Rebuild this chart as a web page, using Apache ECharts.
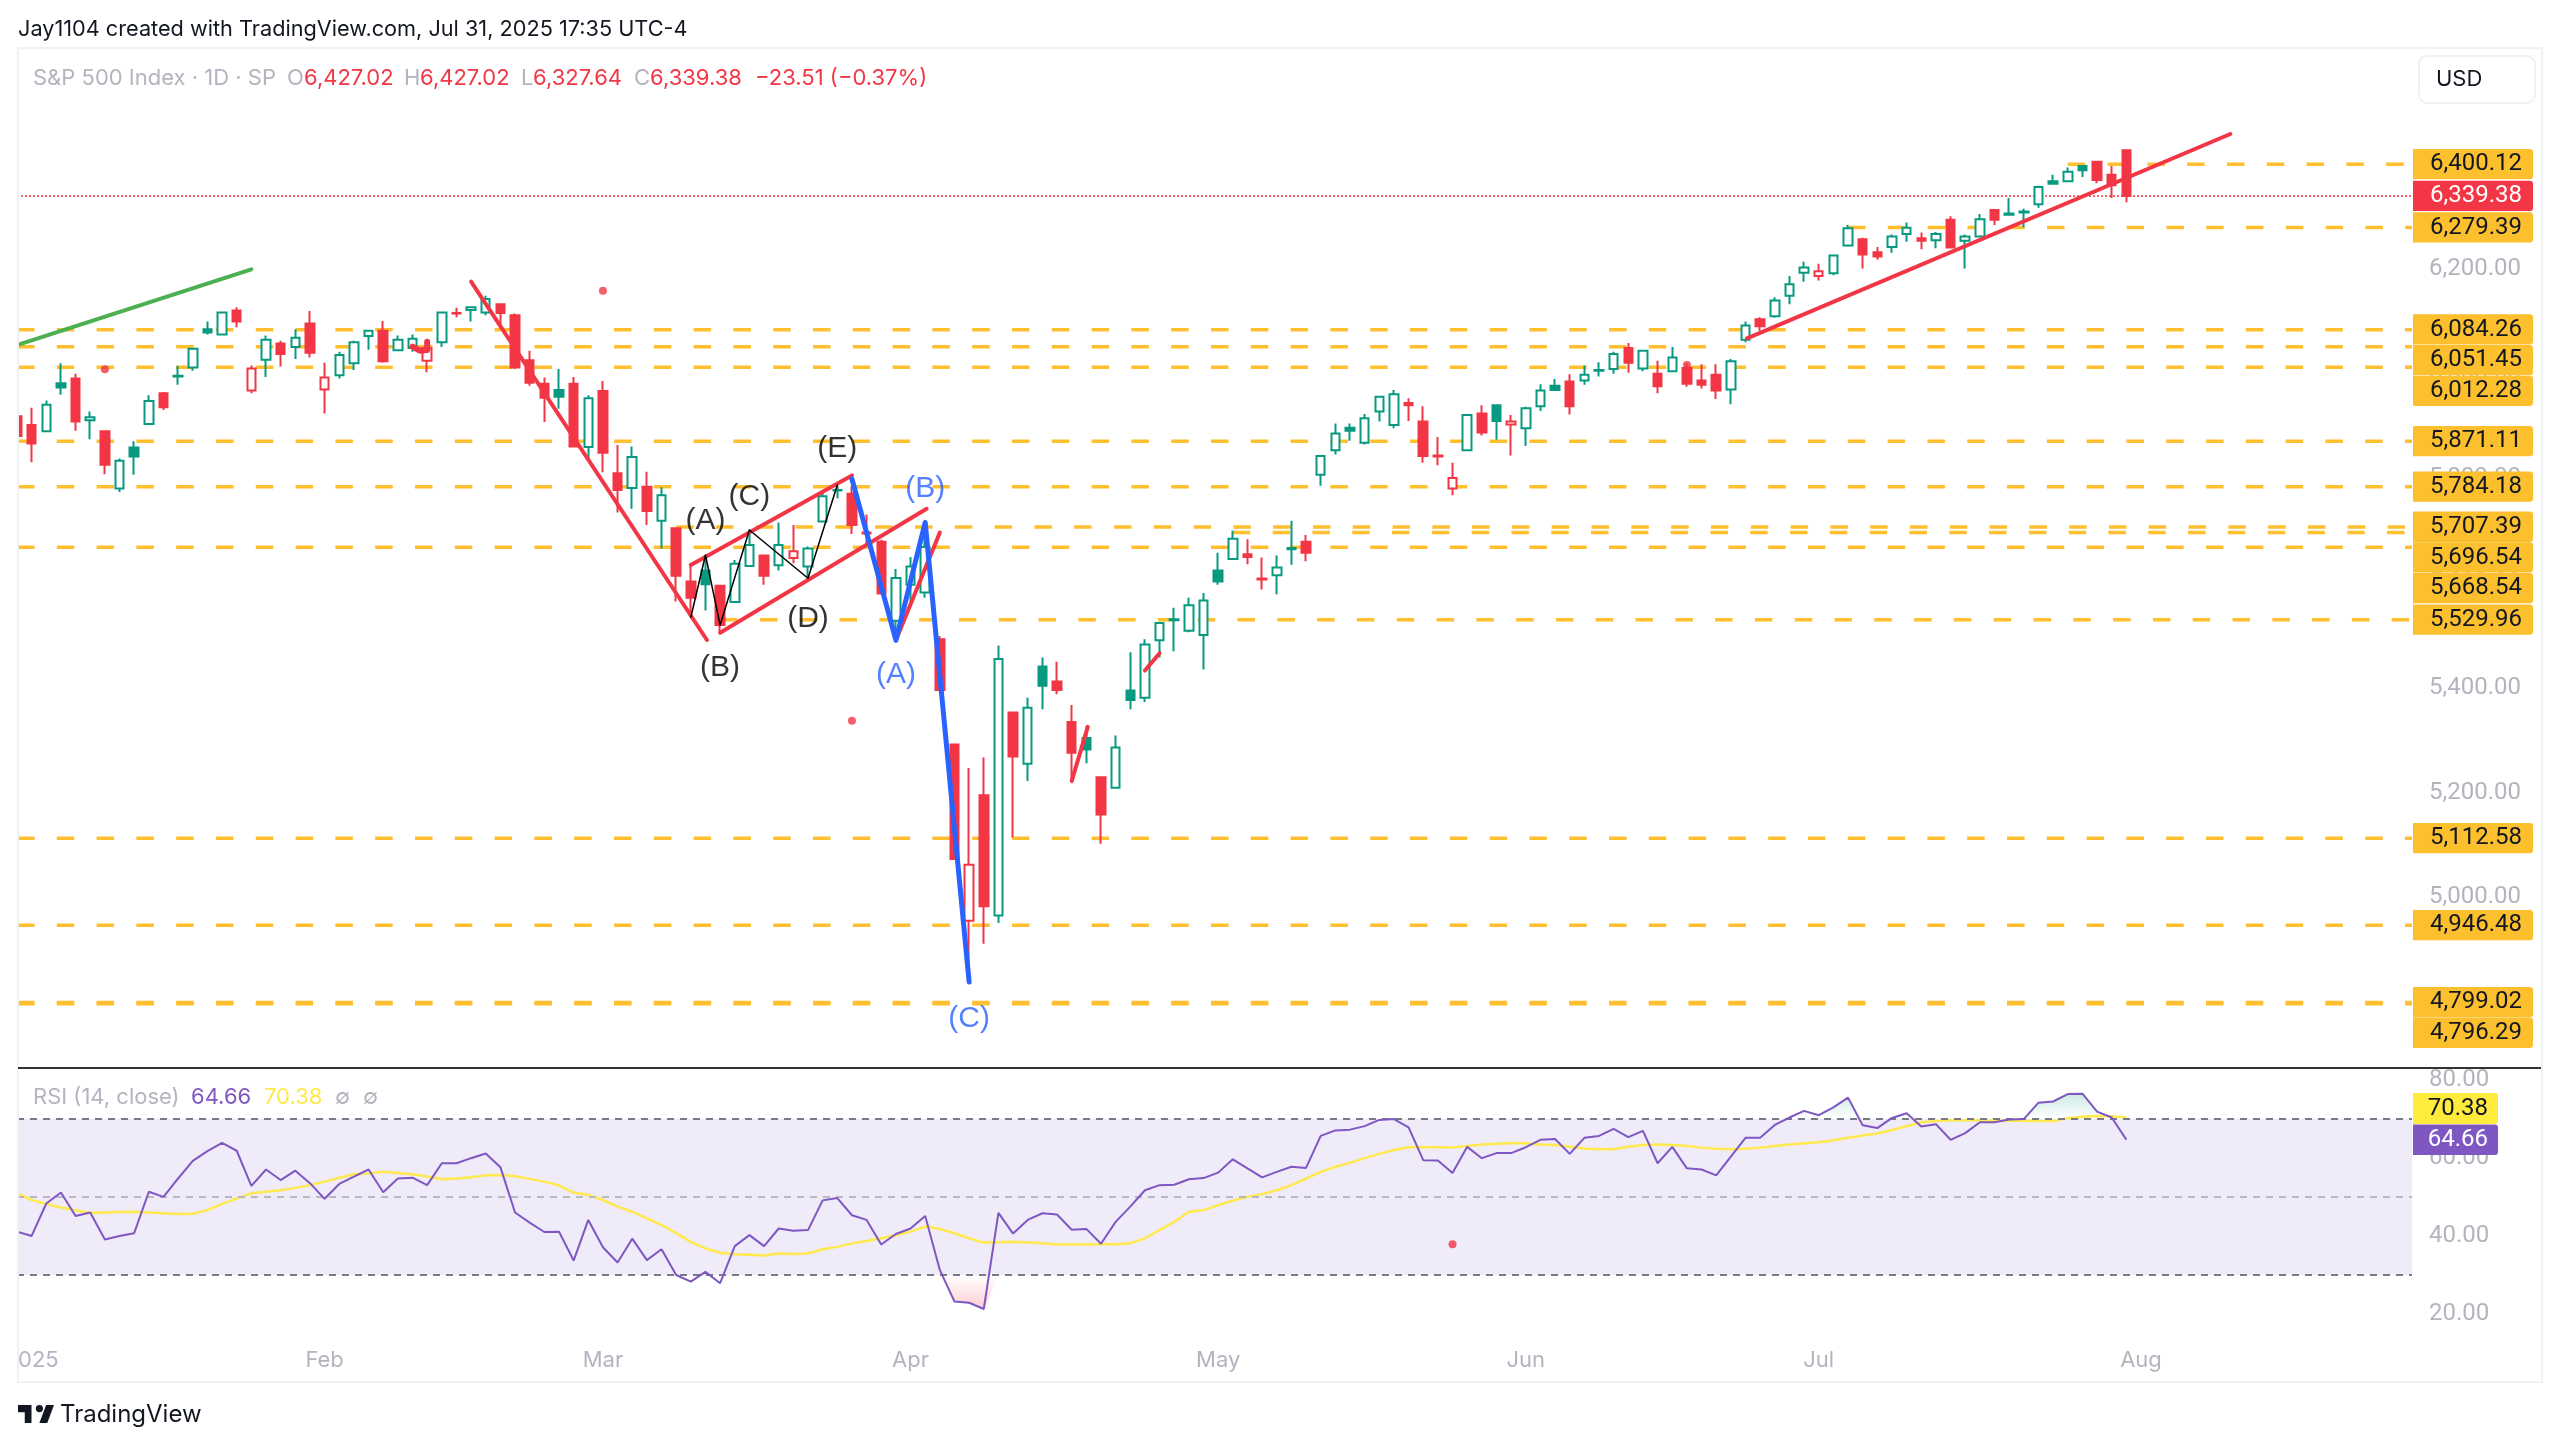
<!DOCTYPE html>
<html>
<head>
<meta charset="utf-8">
<title>S&amp;P 500 Index</title>
<script src="https://cdn.jsdelivr.net/npm/echarts@6/dist/echarts.min.js"></script>
<style>
  html, body { margin: 0; padding: 0; background: #fff; }
  #chart { width: 2560px; height: 1446px; }
</style>
</head>
<body>
<div id="chart"></div>
<script>
// daily candles, first one is the bar cut off by the left edge
var opens = [5919,5902,5890,5982,5991,5911,5890,5781,5859,5904,
  5963,5995,6012,6085,6075,6121,5968,6027,6058,6051,
  6096,5970,5997,6020,6072,6082,6045,6049,6025,6060,
  6116,6122,6117,6133,6112,6026,5981,5969,5981,5860,
  5967,5810,5782,5784,5719,5705,5603,5624,5595,5564,
  5633,5653,5634,5648,5632,5718,5777,5771,5697,5679,
  5528,5597,5582,5493,5292,4955,5195,4965,5353,5255,
  5441,5412,5335,5304,5229,5209,5395,5381,5491,5529,
  5509,5501,5624,5646,5655,5609,5615,5665,5679,5807,
  5854,5897,5868,5928,5902,5944,5909,5844,5781,5854,
  5924,5940,5903,5896,5938,5977,5985,5987,6006,6009,
  6049,6010,6000,6005,6011,5987,5998,5970,6065,6104,
  6110,6149,6193,6187,6192,6245,6257,6232,6242,6267,
  6259,6255,6294,6254,6262,6313,6306,6308,6324,6368,
  6368,6397,6405,6380,6427.02];
var highs = [5919,5935,5949,6020,6000,5928,5890,5838,5871,5959,
  5965,6015,6049,6100,6117,6127,6016,6073,6063,6085,
  6120,6021,6042,6063,6083,6101,6073,6075,6052,6117,
  6126,6129,6149,6133,6115,6044,5993,6009,5994,5959,
  5986,5864,5861,5813,5783,5705,5638,5654,5597,5644,
  5702,5653,5716,5711,5670,5775,5786,5785,5731,5683,
  5627,5650,5715,5499,5292,5247,5267,5481,5353,5381,
  5458,5450,5367,5327,5229,5309,5468,5493,5526,5553,
  5572,5581,5658,5700,5684,5649,5653,5719,5692,5845,
  5905,5905,5923,5957,5969,5953,5938,5879,5830,5923,
  5940,5942,5921,5937,5980,5990,5999,6016,6022,6042,
  6059,6045,6025,6051,6020,6018,6018,6028,6100,6108,
  6146,6187,6214,6210,6226,6284,6260,6242,6266,6289,
  6270,6271,6301,6266,6305,6313,6336,6315,6359,6380,
  6394,6399,6407,6397,6427.02];
var lows = [5881,5831,5890,5960,5891,5875,5808,5774,5807,5904,
  5931,5979,6006,6075,6074,6089,5963,5994,6014,6028,
  6031,5924,5991,6007,6046,6021,6044,6042,6003,6051,
  6108,6100,6112,6087,6009,5977,5908,5933,5861,5837,
  5812,5735,5742,5711,5666,5565,5536,5548,5504,5564,
  5633,5597,5624,5638,5603,5718,5762,5694,5673,5580,
  5495,5559,5572,5396,5073,4838,4911,4951,5114,5222,
  5359,5388,5222,5256,5102,5209,5359,5373,5458,5470,
  5506,5435,5597,5644,5636,5588,5579,5635,5642,5786,
  5846,5872,5865,5909,5896,5910,5830,5825,5768,5854,
  5882,5874,5844,5862,5929,5967,5922,5979,5995,6000,
  6002,6005,5963,6003,5975,5972,5952,5942,6060,6082,
  6107,6133,6176,6178,6188,6245,6201,6218,6231,6252,
  6238,6240,6241,6201,6261,6284,6304,6280,6317,6361,
  6368,6376,6364,6336,6327.64];
var closes = [5881,5867,5941,5974,5909,5917,5826,5834,5842,5948,
  5936,5996,6048,6079,6117,6100,6010,6065,6038,6069,
  6040,5993,6036,6060,6082,6024,6065,6067,6049,6117,
  6115,6127,6143,6116,6012,5983,5954,5956,5861,5953,
  5849,5778,5841,5738,5768,5614,5572,5598,5520,5637,
  5673,5614,5673,5661,5666,5766,5778,5711,5695,5580,
  5610,5632,5669,5396,5073,5062,4983,5455,5269,5362,
  5404,5396,5276,5282,5158,5286,5377,5483,5524,5531,
  5558,5567,5603,5685,5650,5607,5630,5667,5658,5843,
  5886,5891,5915,5956,5961,5940,5843,5842,5801,5921,
  5888,5910,5909,5934,5968,5969,5938,5998,6007,6038,
  6021,6044,5976,6031,5981,5979,5968,6024,6092,6091,
  6140,6171,6203,6196,6226,6278,6228,6224,6262,6279,
  6254,6267,6241,6262,6295,6294,6304,6310,6357,6363,
  6386,6389,6370,6360,6339.38];

// RSI pane
var rsiValues = [41.1,40.0,48.3,51.1,45.1,46.0,39.1,40.0,40.7,51.3,
  50.0,54.7,59.2,61.7,63.8,61.8,52.8,57.0,54.3,56.7,
  53.5,49.5,53.3,55.2,57.0,51.2,54.7,54.9,53.0,58.6,
  58.6,59.9,61.1,57.6,46.0,43.4,41.0,41.1,33.7,44.1,
  37.1,33.2,39.3,33.8,36.6,30.0,28.3,30.8,27.9,37.4,
  40.2,37.4,41.9,41.3,41.5,49.1,49.7,45.3,44.1,37.8,
  40.5,41.9,45.1,31.3,23.2,22.9,21.3,45.9,40.6,44.1,
  45.8,45.5,41.6,41.8,38.0,43.6,47.5,51.7,53.0,53.1,
  54.5,54.8,56.2,59.6,57.3,55.0,56.4,57.7,57.4,65.6,
  67.0,67.2,68.1,69.7,69.9,67.8,59.4,59.3,56.1,62.8,
  59.9,61.2,61.2,62.7,64.6,64.8,61.0,65.1,65.6,67.4,
  65.3,66.9,58.6,62.8,57.3,57.0,55.5,60.3,65.1,65.1,
  68.4,70.3,72.0,70.9,72.9,75.4,68.3,67.6,70.2,71.4,
  68.0,68.6,64.6,66.3,69.1,69.1,69.8,69.9,74.1,74.4,
  76.3,76.4,71.8,70.3,64.66];
var rsiMa = [50.9,49.2,48.2,47.3,46.6,45.9,46.0,46.1,46.2,46.0,
  45.8,45.6,45.7,46.6,48.2,49.6,50.9,51.3,51.7,52.3,
  53.0,53.9,54.9,55.8,56.0,56.4,56.1,55.8,55.2,54.5,
  54.7,55.0,55.5,55.6,55.3,54.6,53.9,52.9,51.1,50.5,
  49.2,47.5,46.2,44.5,42.8,40.7,38.5,36.8,35.7,35.3,
  35.2,35.0,35.5,35.4,35.5,36.6,37.2,38.1,38.7,39.4,
  40.2,41.1,42.4,41.8,40.7,39.4,38.3,38.4,38.5,38.3,
  38.1,37.8,37.8,37.8,37.9,37.9,38.1,39.4,41.5,43.6,
  46.2,46.6,47.9,49.0,50.0,50.7,51.7,53.0,54.7,56.4,
  57.7,58.7,59.9,61.0,62.0,62.7,62.7,62.7,62.6,63.0,
  63.4,63.6,63.8,63.7,63.4,63.3,62.8,62.4,62.2,62.2,
  62.8,63.3,63.4,63.3,63.0,62.6,62.3,62.2,62.3,62.6,
  63.0,63.4,63.7,64.0,64.5,65.1,65.7,66.2,67.1,68.1,
  69.1,69.4,69.6,69.6,69.6,69.5,69.5,69.5,69.4,69.4,
  70.1,70.5,70.7,70.6,70.38];

// horizontal levels drawn on the chart, and the bar each one starts from
var levelPrices = [6400.12,6279.39,6084.26,6051.45,6012.28,5871.11,5784.18,5707.39,5696.54,5668.54,5529.96,5112.58,4946.48,4799.02,4796.29];
var levelStarts = [140,125,0,0,0,0,0,45,83,0,48,0,0,0,0];
var lastClose = 6339.38;
var lastBar = 163.5; // right edge of the plot, in bars

// hand drawn lines, [bar, price]
var greenTrend = [[0.1,6055.7],[16,6199.5]];
var redDown = [[31,6175.9],[47.1,5491.4]];
var redUpper = [[46,5634.7],[57,5805.8]];
var redLower = [[48,5505.2],[62.1,5742]];
var redShort = [[60,5491],[63,5696.6]];
var redTick1 = [[72,5221.9],[73.1,5325.4]];
var redTick2 = [[77,5433],[78,5466.2]];
var redRising = [[118.1,6067.7],[151.1,6458]];
var redScribble = [[27,6051.8],[27.5,6044.1],[28,6045.4],[28,6061.3]];
var blackWave = [[46,5534.8],[47,5653.8],[48,5520],[50,5701.6],[54,5609.3],[56,5787.5]];
var blueWave = [[57,5799],[60,5491],[62,5716],[65,4838]];
var redDots = [[6,6008.5],[40,6158.7],[57,5337],[114,6016.7]];
var rsiDot = [[98,37.9]];

var blackLabels = [[47,5722.5,'(A)'],[48,5441.7,'(B)'],[50,5768.4,'(C)'],[54,5535.3,'(D)'],[56,5860,'(E)']];
var blueLabels = [[60,5428.4,'(A)'],[62,5783.7,'(B)'],[65,4771.3,'(C)']];

// axis ticks
var priceTicks = [4800,5000,5200,5400,5600,5800,6000,6200,6400];
var rsiTicks = [20,40,60,80];
var monthBars = [1,21,40,61,82,103,123,145];
var monthNames = ['2025','Feb','Mar','Apr','May','Jun','Jul','Aug'];

var RED = '#F23645', GREEN = '#089981', GOLD = '#FFBF2F', GRAY = '#B2B5BE';
var PURPLE = '#7E57C2', YELLOW = '#FFE94D', BLUE = '#2962FF';
var FONT = 'Inter, sans-serif', NUM_FONT = 'Roboto, sans-serif';

var chart = echarts.init(document.getElementById('chart'));

// green or red comes from the previous close, hollow from close above open
var candleData = opens.map(function (o, i) {
  var c = closes[i];
  var col = (i > 0 && c >= closes[i - 1]) ? GREEN : RED;
  return {
    value: [i, o, c, lows[i], highs[i]],
    itemStyle: {
      color: c >= o ? '#fff' : col,
      color0: col,
      borderColor: col,
      borderColor0: col,
      borderColorDoji: col
    }
  };
});

function drawing(points, color, width, z) {
  return {
    type: 'line', data: points, symbol: 'none', silent: true, z: z || 5,
    lineStyle: { color: color, width: width, cap: 'round', join: 'round' }
  };
}

function textLabels(rows, color) {
  return {
    type: 'scatter', symbolSize: 0, silent: true, z: 7,
    data: rows.map(function (r) { return { value: [r[0], r[1]], name: r[2] }; }),
    label: {
      show: true, position: 'inside', offset: [0, 2], formatter: '{b}', color: color,
      fontFamily: 'Liberation Sans', fontSize: 30
    }
  };
}

var series = [];

levelPrices.forEach(function (p, i) {
  series.push({
    type: 'line', symbol: 'none', silent: true, z: 1,
    data: [[levelStarts[i], p], [lastBar, p]],
    lineStyle: { color: GOLD, width: 3.5, type: [17.5, 22.3] }
  });
});
series.push({
  type: 'line', symbol: 'none', silent: true, z: 1,
  data: [[0, lastClose], [lastBar, lastClose]],
  lineStyle: { color: RED, width: 1.5, type: [2, 2] }
});

series.push({
  type: 'candlestick', data: candleData, barWidth: 9, z: 3,
  encode: { x: 0, y: [1, 2, 3, 4] },
  itemStyle: { borderWidth: 2 }
});

series.push(drawing(greenTrend, '#4CAF50', 4));
series.push(drawing(redDown, RED, 4));
series.push(drawing(redUpper, RED, 4));
series.push(drawing(redLower, RED, 4));
series.push(drawing(redShort, RED, 4));
series.push(drawing(redTick1, RED, 4));
series.push(drawing(redTick2, RED, 4));
series.push(drawing(redRising, RED, 4));
series.push(drawing(redScribble, RED, 6));
series.push(drawing(blackWave, '#000', 1.5));
series.push(drawing(blueWave, BLUE, 5));

series.push({
  type: 'scatter', data: redDots, symbolSize: 8, silent: true, z: 6,
  itemStyle: { color: RED }
});
series.push(textLabels(blackLabels, '#000'));
series.push(textLabels(blueLabels, BLUE));

// RSI pane series
function rsiPane(s) {
  s.xAxisIndex = 1;
  s.yAxisIndex = 1;
  return s;
}
series.push(rsiPane({
  type: 'line', data: rsiValues.map(function (v, i) { return [i, Math.max(v, 70)]; }),
  symbol: 'none', silent: true, z: 2, lineStyle: { width: 0 },
  areaStyle: {
    origin: 70,
    color: new echarts.graphic.LinearGradient(0, 0, 0, 1, [
      { offset: 0, color: 'rgba(8,153,129,0.3)' }, { offset: 1, color: 'rgba(8,153,129,0)' }
    ])
  }
}));
series.push(rsiPane({
  type: 'line', data: rsiValues.map(function (v, i) { return [i, Math.min(v, 30)]; }),
  symbol: 'none', silent: true, z: 2, lineStyle: { width: 0 },
  areaStyle: {
    origin: 30,
    color: new echarts.graphic.LinearGradient(0, 0, 0, 1, [
      { offset: 0, color: 'rgba(242,54,69,0)' }, { offset: 1, color: 'rgba(242,54,69,0.35)' }
    ])
  }
}));
series.push(rsiPane({
  type: 'line', data: rsiMa.map(function (v, i) { return [i, v]; }),
  symbol: 'none', silent: true, z: 4, lineStyle: { color: YELLOW, width: 2.5 }
}));
series.push(rsiPane({
  type: 'line', data: rsiValues.map(function (v, i) { return [i, v]; }),
  symbol: 'none', silent: true, z: 5, lineStyle: { color: PURPLE, width: 2 },
  markArea: {
    silent: true,
    itemStyle: { color: 'rgba(126,87,194,0.12)' },
    data: [[{ yAxis: 30 }, { yAxis: 70 }]]
  },
  markLine: {
    silent: true, symbol: 'none', label: { show: false },
    data: [
      { yAxis: 70, lineStyle: { color: '#787B86', width: 2, type: [7, 6] } },
      { yAxis: 50, lineStyle: { color: '#B8B8C0', width: 2, type: [7, 6] } },
      { yAxis: 30, lineStyle: { color: '#787B86', width: 2, type: [7, 6] } }
    ]
  }
}));
series.push(rsiPane({
  type: 'scatter', data: rsiDot, symbolSize: 8, silent: true, z: 6, itemStyle: { color: RED }
}));

chart.setOption({
  animation: false,
  backgroundColor: '#fff',
  grid: [
    { left: 17, top: 50, width: 2395, height: 1017 },
    { left: 17, top: 1069, width: 2395, height: 271 }
  ],
  xAxis: [
    { type: 'value', gridIndex: 0, min: 0, max: lastBar, show: false, splitLine: { show: false } },
    {
      type: 'value', gridIndex: 1, min: 0, max: lastBar,
      splitLine: { show: false }, axisLine: { show: false }, axisTick: { show: false },
      axisLabel: {
        customValues: monthBars, margin: 9, color: GRAY, fontFamily: FONT, fontSize: 22,
        formatter: function (v) { return monthNames[monthBars.indexOf(v)]; }
      }
    }
  ],
  yAxis: [
    {
      type: 'value', gridIndex: 0, position: 'right', min: 4675.7, max: 6618.5,
      splitLine: { show: false }, axisLine: { show: false }, axisTick: { show: false },
      axisLabel: {
        customValues: priceTicks, margin: 17, align: 'left', color: GRAY, fontFamily: NUM_FONT, fontSize: 24,
        formatter: function (v) { return v.toLocaleString('en-US', { minimumFractionDigits: 2 }); }
      }
    },
    {
      type: 'value', gridIndex: 1, position: 'right', min: 13.37, max: 82.72,
      splitLine: { show: false }, axisLine: { show: false }, axisTick: { show: false },
      axisLabel: {
        customValues: rsiTicks, margin: 17, align: 'left', color: GRAY, fontFamily: NUM_FONT, fontSize: 24,
        formatter: function (v) { return v.toFixed(2); }
      }
    }
  ],
  series: series
});

// everything around the plot: header, legends, price boxes, frame
var g = [];
function addText(x, y, str, color, size, align, family) {
  g.push({
    type: 'text', x: x, y: y, z: 100,
    style: { text: str, fill: color, font: (size || 22) + 'px ' + (family || FONT), align: align || 'left', verticalAlign: 'middle' }
  });
}

// the frame hides what sticks out left of the plot
g.push({ type: 'rect', z: 90, shape: { x: 0, y: 48, width: 17, height: 1334 }, style: { fill: '#fff' } });
g.push({ type: 'rect', z: 91, shape: { x: 18, y: 48, width: 2524, height: 1334 }, style: { fill: 'none', stroke: '#F0F1F4', lineWidth: 2 } });
g.push({ type: 'line', z: 92, shape: { x1: 18, y1: 1068, x2: 2541, y2: 1068 }, style: { stroke: '#333', lineWidth: 2 } });

addText(18, 29, 'Jay1104 created with TradingView.com, Jul 31, 2025 17:35 UTC-4', '#131722', 21.7);

var legendParts = [
  [33, 'S&P 500 Index · 1D · SP', GRAY],
  [287, 'O', GRAY], [304, '6,427.02', RED],
  [404, 'H', GRAY], [420, '6,427.02', RED],
  [521, 'L', GRAY], [533, '6,327.64', RED],
  [634, 'C', GRAY], [650, '6,339.38', RED],
  [755, '−23.51 (−0.37%)', RED]
];
legendParts.forEach(function (p) { addText(p[0], 78, p[1], p[2], 22); });

var rsiParts = [
  [33, 'RSI (14, close)', GRAY], [191, '64.66', PURPLE], [264, '70.38', YELLOW],
  [335, '∅', GRAY], [363, '∅', GRAY]
];
rsiParts.forEach(function (p) { addText(p[0], 1097, p[1], p[2], 22); });

// USD box
g.push({ type: 'rect', z: 95, shape: { x: 2419, y: 56, width: 116, height: 47, r: 8 }, style: { fill: '#fff', stroke: '#F0F1F4', lineWidth: 2 } });
addText(2436, 79, 'USD', '#131722', 22);

// price boxes stack downwards when they would overlap
var boxH = 30.7;
var boxes = levelPrices.map(function (p) { return { price: p, fill: '#FCBF2D', color: '#131722' }; });
boxes.push({ price: lastClose, fill: RED, color: '#fff' });
boxes.sort(function (a, b) { return b.price - a.price; });
var prevY = -100;
boxes.forEach(function (b) {
  var y = chart.convertToPixel({ yAxisIndex: 0 }, b.price);
  if (y - prevY < boxH) y = prevY + boxH;
  prevY = y;
  g.push({ type: 'rect', z: 96, shape: { x: 2413, y: y - boxH / 2, width: 120, height: boxH - 0.4, r: [0, 3, 3, 0] }, style: { fill: b.fill } });
  addText(2522, y, b.price.toLocaleString('en-US', { minimumFractionDigits: 2 }), b.color, 24, 'right', NUM_FONT);
});

// RSI boxes
g.push({ type: 'rect', z: 96, shape: { x: 2413, y: 1093, width: 85, height: 31, r: [0, 3, 3, 0] }, style: { fill: '#FFEB3B' } });
addText(2488, 1109, '70.38', '#131722', 24, 'right', NUM_FONT);
g.push({ type: 'rect', z: 96, shape: { x: 2413, y: 1124.5, width: 85, height: 30.5, r: [0, 3, 3, 0] }, style: { fill: PURPLE } });
addText(2488, 1140, '64.66', '#fff', 24, 'right', NUM_FONT);

// TradingView logo and name
g.push({ type: 'polygon', z: 100, shape: { points: [[18,1405],[31.5,1405],[31.5,1423],[24.75,1423],[24.75,1412.2],[18,1412.2]] }, style: { fill: '#131722' } });
g.push({ type: 'circle', z: 100, shape: { cx: 39.4, cy: 1408.6, r: 3.6 }, style: { fill: '#131722' } });
g.push({ type: 'polygon', z: 100, shape: { points: [[39.4,1423],[46.1,1405],[54,1405],[47.25,1423]] }, style: { fill: '#131722' } });
addText(60, 1415, 'TradingView', '#131722', 24);

chart.setOption({ graphic: g });
</script>
</body>
</html>
